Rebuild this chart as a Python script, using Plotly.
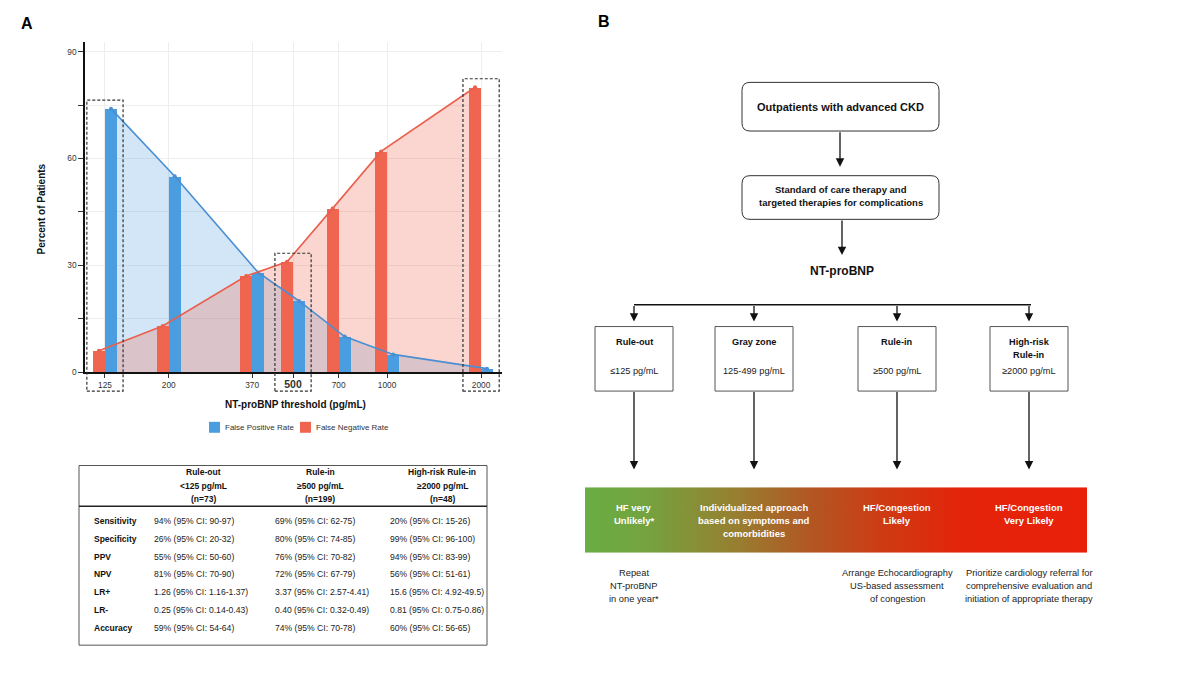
import numpy as np
import plotly.graph_objects as go

W, H = 1200, 673
FONT = "Liberation Sans, Arial, Helvetica, sans-serif"

# ---------------- data: panel A chart ----------------
thresholds = [125, 200, 370, 500, 700, 1000, 2000]
tick_labels = ["125", "200", "370", "<span style='font-size:10.5px'><b>500</b></span>", "700", "1000", "2000"]
false_positive_rate = [74, 55, 28, 20, 10, 5, 1]
false_negative_rate = [6, 13, 27, 31, 46, 62, 80]
highlighted_thresholds = [125, 500, 2000]
series_names = ["False Positive Rate", "False Negative Rate"]

# ---------------- data: panel A table ----------------
table_headers = [["Rule-out", "<125 pg/mL", "(n=73)"],
                 ["Rule-in", "≥500 pg/mL", "(n=199)"],
                 ["High-risk Rule-in", "≥2000 pg/mL", "(n=48)"]]
table_metrics = ["Sensitivity", "Specificity", "PPV", "NPV", "LR+", "LR-", "Accuracy"]
rule_out_values = ["94% (95% CI: 90-97)", "26% (95% CI: 20-32)", "55% (95% CI: 50-60)",
                   "81% (95% CI: 70-90)", "1.26 (95% CI: 1.16-1.37)", "0.25 (95% CI: 0.14-0.43)",
                   "59% (95% CI: 54-64)"]
rule_in_values = ["69% (95% CI: 62-75)", "80% (95% CI: 74-85)", "76% (95% CI: 70-82)",
                  "72% (95% CI: 67-79)", "3.37 (95% CI: 2.57-4.41)", "0.40 (95% CI: 0.32-0.49)",
                  "74% (95% CI: 70-78)"]
high_risk_values = ["20% (95% CI: 15-26)", "99% (95% CI: 96-100)", "94% (95% CI: 83-99)",
                    "56% (95% CI: 51-61)", "15.6 (95% CI: 4.92-49.5)", "0.81 (95% CI: 0.75-0.86)",
                    "60% (95% CI: 56-65)"]

# ---------------- data: panel B flowchart ----------------
flow_top = "Outpatients with advanced CKD"
flow_second = ["Standard of care therapy and", "targeted therapies for complications"]
flow_marker = "NT-proBNP"
zone_titles = [["Rule-out"], ["Gray zone"], ["Rule-in"], ["High-risk", "Rule-in"]]
zone_ranges = ["≤125 pg/mL", "125-499 pg/mL", "≥500 pg/mL", "≥2000 pg/mL"]
zone_outcomes = [["HF very", "Unlikely*"],
                 ["Individualized approach", "based on symptoms and", "comorbidities"],
                 ["HF/Congestion", "Likely"],
                 ["HF/Congestion", "Very Likely"]]
zone_actions = [["Repeat", "NT-proBNP", "in one year*"],
                [],
                ["Arrange Echocardiography", "US-based assessment", "of congestion"],
                ["Prioritize cardiology referral for", "comprehensive evaluation and",
                 "initiation of appropriate therapy"]]

BLUE = "#4a9ddf"
RED = "#f0654f"
BLUE_LINE = "#4a8fd2"
RED_LINE = "#e9604c"

# ---------------- geometry helpers ----------------
def px(x):
    return x / W

def py(y):
    return 1 - y / H

log_t = np.log10(thresholds)
X_RANGE = [2.033, 3.368]
Y_RANGE = [0, 92.8]
YDOM = [py(375), py(42)]
BAR_W = 0.0385
OFF = BAR_W / 2

fig = go.Figure()

# area fills (base axes, drawn beneath the bars)
fig.add_trace(go.Scatter(x=log_t + OFF, y=false_positive_rate, mode="none", fill="tozeroy",
                         fillcolor="rgba(74,157,223,0.25)", showlegend=False, hoverinfo="skip",
                         xaxis="x", yaxis="y"))
fig.add_trace(go.Scatter(x=log_t - OFF, y=false_negative_rate, mode="none", fill="tozeroy",
                         fillcolor="rgba(240,101,79,0.27)", showlegend=False, hoverinfo="skip",
                         xaxis="x", yaxis="y"))

# bars (overlay axes)
fig.add_trace(go.Bar(x=log_t + OFF, y=false_positive_rate, width=BAR_W, marker_color=BLUE,
                     marker_line_width=0, name=series_names[0], showlegend=False,
                     xaxis="x2", yaxis="y2"))
fig.add_trace(go.Bar(x=log_t - OFF, y=false_negative_rate, width=BAR_W, marker_color=RED,
                     marker_line_width=0, name=series_names[1], showlegend=False,
                     xaxis="x2", yaxis="y2"))

# lines
fig.add_trace(go.Scatter(x=log_t + OFF, y=false_positive_rate, mode="lines+markers",
                         line=dict(color=BLUE_LINE, width=1.6), marker=dict(size=4, color=BLUE_LINE),
                         showlegend=False, xaxis="x2", yaxis="y2"))
fig.add_trace(go.Scatter(x=log_t - OFF, y=false_negative_rate, mode="lines+markers",
                         line=dict(color=RED_LINE, width=1.6), marker=dict(size=4, color=RED_LINE),
                         showlegend=False, xaxis="x2", yaxis="y2"))

# gradient band for panel B
fig.add_trace(go.Scatter(x=[0, 1, 1, 0, 0], y=[0, 0, 1, 1, 0], mode="none", fill="toself",
                         fillgradient=dict(type="horizontal",
                                           colorscale=[[0, "#69ad43"], [0.12, "#74a33f"],
                                                       [0.3, "#977f30"], [0.45, "#b25623"],
                                                       [0.6, "#cf3a13"], [0.75, "#e4240a"],
                                                       [1, "#e8200a"]]),
                         showlegend=False, hoverinfo="skip", xaxis="x3", yaxis="y3"))

shapes = []
ann = []

def text(x, y, s, size, bold=False, color="#111", xanchor="center", angle=0):
    ann.append(dict(x=px(x), y=py(y), xref="paper", yref="paper", showarrow=False,
                    text=f"<b>{s}</b>" if bold else s, textangle=angle,
                    font=dict(family=FONT, size=size, color=color),
                    xanchor=xanchor, yanchor="middle"))

def lines(x, y0, arr, size, step, bold=False, color="#111"):
    for i, s in enumerate(arr):
        text(x, y0 + i * step, s, size, bold=bold, color=color)

def arrow(x, y0, y1):
    ann.append(dict(x=px(x), y=py(y1), xref="paper", yref="paper", text="", showarrow=True,
                    ax=0, ay=-(y1 - y0), axref="pixel", ayref="pixel", arrowhead=2,
                    arrowsize=1.3, arrowwidth=1.3, arrowcolor="#111", standoff=0))

def rrect(x0, y0, x1, y1, r):
    X, Y = px, py
    return (f"M {X(x0+r)},{Y(y0)} L {X(x1-r)},{Y(y0)} Q {X(x1)},{Y(y0)} {X(x1)},{Y(y0+r)} "
            f"L {X(x1)},{Y(y1-r)} Q {X(x1)},{Y(y1)} {X(x1-r)},{Y(y1)} "
            f"L {X(x0+r)},{Y(y1)} Q {X(x0)},{Y(y1)} {X(x0)},{Y(y1-r)} "
            f"L {X(x0)},{Y(y0+r)} Q {X(x0)},{Y(y0)} {X(x0+r)},{Y(y0)} Z")

# ---------------- panel A decorations ----------------
text(27, 24, "A", 16, bold=True, color="#000")
text(604, 22, "B", 16, bold=True, color="#000")
text(295, 408, "NT-proBNP threshold (pg/mL)", 10, bold=True, color="#111")
text(41, 211, "Percent of Patients", 10, bold=True, color="#111", angle=-90)

# legend (manual, compact)
for lx, col, name in [(209, BLUE, series_names[0]), (300, RED, series_names[1])]:
    shapes.append(dict(type="rect", xref="paper", yref="paper", x0=px(lx), x1=px(lx + 11),
                       y0=py(436), y1=py(425), fillcolor=col, line=dict(width=0)))
    text(lx + 14, 430.5, name, 8, color="#333", xanchor="left")

for t in highlighted_thresholds:
    i = thresholds.index(t)
    top = max(false_positive_rate[i], false_negative_rate[i]) + 2.4
    ytop = YDOM[0] + (top - Y_RANGE[0]) / (Y_RANGE[1] - Y_RANGE[0]) * (YDOM[1] - YDOM[0])
    shapes.append(dict(type="rect", xref="x", yref="paper",
                       x0=log_t[i] - 0.058, x1=log_t[i] + 0.058, y0=py(394), y1=ytop,
                       line=dict(color="#333", width=1.2, dash="3px,2px"), layer="above"))

# ---------------- panel A table ----------------
shapes.append(dict(type="rect", xref="paper", yref="paper", x0=px(79), x1=px(487), y0=py(650), y1=py(469),
                   line=dict(color="#555", width=1)))
shapes.append(dict(type="line", xref="paper", yref="paper", x0=px(79), x1=px(487), y0=py(510), y1=py(510),
                   line=dict(color="#222", width=1.5)))
for cx, hdr in zip([203, 320, 442], table_headers):
    lines(cx, 476, hdr, 8.5, 13.5, bold=True)
for r, m in enumerate(table_metrics):
    yy = 525 + r * 17.9
    text(92, yy, m, 8.5, bold=True, xanchor="left")
    text(152, yy, rule_out_values[r], 8.6, xanchor="left", color="#222")
    text(273, yy, rule_in_values[r], 8.6, xanchor="left", color="#222")
    text(388, yy, high_risk_values[r], 8.6, xanchor="left", color="#222")

# ---------------- panel B flowchart ----------------
shapes.append(dict(type="path", xref="paper", yref="paper", path=rrect(742, 83, 939, 132, 8),
                   line=dict(color="#333", width=1), fillcolor="white"))
text(840, 108, flow_top, 11, bold=True)
arrow(840, 132, 168)
shapes.append(dict(type="path", xref="paper", yref="paper", path=rrect(742, 177, 939, 221, 8),
                   line=dict(color="#333", width=1), fillcolor="white"))
lines(841, 190.5, flow_second, 9.5, 14, bold=True)
arrow(842, 221, 257)
text(842, 273, flow_marker, 12, bold=True)

col_x = [634, 754, 897, 1029]
shapes.append(dict(type="line", xref="paper", yref="paper", x0=px(col_x[0]), x1=px(col_x[-1] + 2),
                   y0=py(307), y1=py(307), line=dict(color="#111", width=1.5)))
for k, cx in enumerate(col_x):
    arrow(cx, 307, 324)
    shapes.append(dict(type="rect", xref="paper", yref="paper", x0=px(cx - 39), x1=px(cx + 39),
                       y0=py(394), y1=py(329), line=dict(color="#555", width=1), fillcolor="white"))
    lines(cx, 345, zone_titles[k], 9.2, 13, bold=True)
    text(cx, 374, zone_ranges[k], 9.2, color="#222")
    arrow(cx, 394, 473)
    lines(cx, 511, zone_outcomes[k], 9.5, 13, bold=True, color="white")
    lines(cx, 577, zone_actions[k], 9.3, 13, color="#222")

fig.update_layout(
    width=W, height=H, margin=dict(l=0, r=0, t=0, b=0),
    paper_bgcolor="white", plot_bgcolor="rgba(0,0,0,0)",
    font=dict(family=FONT, color="#333"),
    barmode="overlay", bargap=0,
    showlegend=False,
    xaxis=dict(domain=[px(85), px(502)], range=X_RANGE, tickmode="array", tickvals=log_t,
               ticktext=tick_labels, showgrid=True, gridcolor="#eeeeee", gridwidth=1,
               showline=True, linecolor="#111", linewidth=1.5, ticks="outside", ticklen=4,
               tickcolor="#333", tickfont=dict(family=FONT, size=8.3, color="#333"),
               zeroline=False, anchor="y", fixedrange=True),
    yaxis=dict(domain=YDOM, range=Y_RANGE, tickmode="array", tickvals=[0, 15, 30, 45, 60, 75, 90],
               ticktext=["0", "", "30", "", "60", "", "90"], showgrid=True, gridcolor="#eeeeee",
               gridwidth=1, showline=True, linecolor="#111", linewidth=1.5, ticks="outside",
               ticklen=5, tickcolor="#333", tickfont=dict(family=FONT, size=8.3, color="#333"),
               zeroline=False, anchor="x", fixedrange=True),
    xaxis2=dict(overlaying="x", range=X_RANGE, visible=False, fixedrange=True, anchor="y2"),
    yaxis2=dict(overlaying="y", range=Y_RANGE, visible=False, fixedrange=True, anchor="x2"),
    xaxis3=dict(domain=[px(585), px(1087)], range=[0, 1], visible=False, fixedrange=True, anchor="y3"),
    yaxis3=dict(domain=[py(557), py(491)], range=[0, 1], visible=False, fixedrange=True, anchor="x3"),
    shapes=shapes, annotations=ann,
)

fig.write_html("out.html", config={"displayModeBar": False},
               post_script="document.body.style.margin='0px';"
                           "document.body.style.overflow='hidden';"
                           "document.documentElement.style.overflow='hidden';")
